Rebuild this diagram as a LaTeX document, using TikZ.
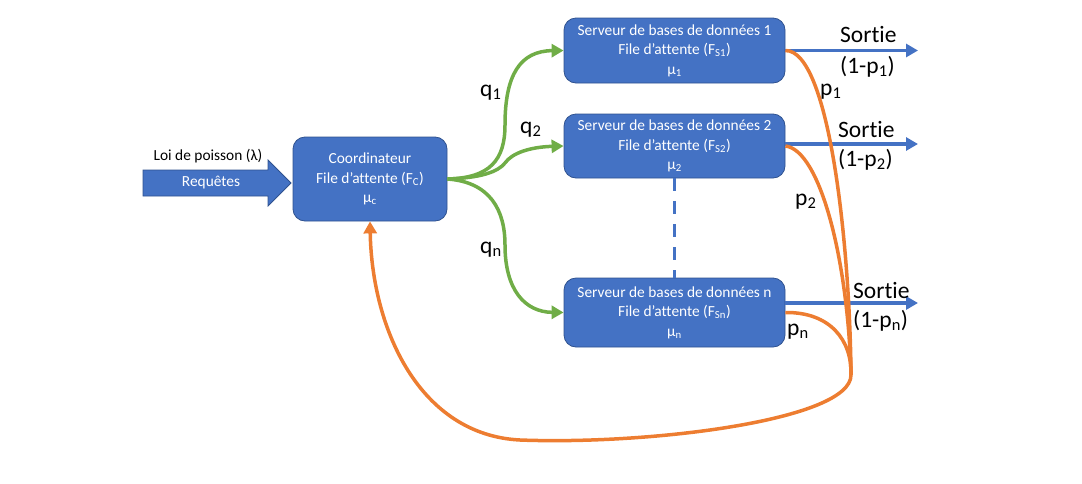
\documentclass[tikz,border=0pt]{standalone}
\usepackage{fontspec}
\setmainfont{Carlito}[Ligatures=NoCommon]
\usetikzlibrary{arrows.meta}
\definecolor{oblue}{HTML}{4472C4}
\definecolor{oborder}{HTML}{2F528F}
\definecolor{ogreen}{HTML}{70AD47}
\definecolor{oorange}{HTML}{ED7D31}
\tikzset{
  boxtext/.style={font=\fontsize{15.4}{19.5}\selectfont, text=white, align=center},
  qbox/.style={boxtext, draw=oborder, line width=0.8pt, fill=oblue, rounded corners=12pt, inner sep=0pt},
  lbl/.style={font=\fontsize{23.5}{27}\selectfont, text=black, inner sep=0pt, anchor=base west},
  greenarrow/.style={draw=ogreen, line width=3.5pt, -{Triangle[length=12pt,width=13pt]}},
  orangeline/.style={draw=oorange, line width=3.5pt},
  bluearrow/.style={draw=oblue, line width=3.2pt, -{Triangle[length=12pt,width=13pt]}},
}
\begin{document}
\begin{tikzpicture}[x=1pt,y=-1pt]
\useasboundingbox (0,0) rectangle (1082,483);
% input block arrow
\draw[fill=oblue, draw=oborder, line width=0.8pt] (143,170) -- (268,170) -- (268,160) -- (291,183) -- (268,206) -- (268,196) -- (143,196) -- cycle;
\node[boxtext] (req) at (211,183) {Requêtes};
\node[font=\fontsize{15.4}{19.5}\selectfont] (loi) at (208,156) {Loi de poisson (λ)};
% boxes
\node[qbox, minimum width=154pt, minimum height=84pt] (c) at (370,179) {Coordinateur\\File d’attente (F\textsubscript{C})\\μ\textsubscript{c}};
\node[qbox, minimum width=221pt, minimum height=65pt] (s1) at (674.5,50.5) {Serveur de bases de données 1\\File d’attente (F\textsubscript{S1})\\μ\textsubscript{1}};
\node[qbox, minimum width=221pt, minimum height=64pt] (s2) at (674.5,146) {Serveur de bases de données 2\\File d’attente (F\textsubscript{S2})\\μ\textsubscript{2}};
\node[qbox, minimum width=221pt, minimum height=69pt] (sn) at (674.5,312.5) {Serveur de bases de données n\\File d’attente (F\textsubscript{Sn})\\μ\textsubscript{n}};
% dashed
\draw[draw=oblue, line width=3.2pt, dash pattern=on 13pt off 10pt] (s2.south) -- (sn.north);
% green
\draw[greenarrow] (c.east) .. controls (490,178) and (505,160) .. (505,125) .. controls (505,75) and (520,51) .. (s1.west);
\draw[greenarrow] (c.east) .. controls (480,178) and (498,172) .. (505,163) .. controls (512,153) and (530,147) .. (s2.west);
\draw[greenarrow] (c.east) .. controls (490,182) and (505,210) .. (505,245) .. controls (505,290) and (525,312) .. (sn.west);
% outputs
\coordinate (o1) at (918,50.5);
\coordinate (o2) at (918,144);
\coordinate (on) at (918,303);
\draw[bluearrow] (s1.east) -- (o1);
\draw[bluearrow] ([yshift=2pt]s2.east) -- (o2);
\draw[bluearrow] ([yshift=9.5pt]sn.east) -- (on);
% orange feedback
\coordinate (J) at (851,375);
\draw[orangeline] (s1.east) .. controls (830,50) and (850,250) .. (J);
\draw[orangeline] (s2.east) .. controls (820,150) and (848,260) .. (J);
\draw[orangeline] (sn.east) .. controls (830,312) and (852,340) .. (J);
\draw[orangeline, -{Triangle[length=12pt,width=13pt]}] (J) .. controls (851,420) and (650,445) .. (520,440) .. controls (420,435) and (372,330) .. (c.south);
% labels
\node[lbl] (q1) at (480,96) {q\textsubscript{1}};
\node[lbl] (q2) at (520,133) {q\textsubscript{2}};
\node[lbl] (qn) at (480,253) {q\textsubscript{n}};
\node[lbl] (p1) at (820,95) {p\textsubscript{1}};
\node[lbl] (p2) at (795,205) {p\textsubscript{2}};
\node[lbl] (pn) at (787,335) {p\textsubscript{n}};
\node[lbl] (so1) at (840,42) {Sortie};
\node[lbl] (pr1) at (840,73) {(1-p\textsubscript{1})};
\node[lbl] (so2) at (838,137) {Sortie};
\node[lbl] (pr2) at (838,166) {(1-p\textsubscript{2})};
\node[lbl] (son) at (853,298) {Sortie};
\node[lbl] (prn) at (853,327) {(1-p\textsubscript{n})};
\end{tikzpicture}
\end{document}
